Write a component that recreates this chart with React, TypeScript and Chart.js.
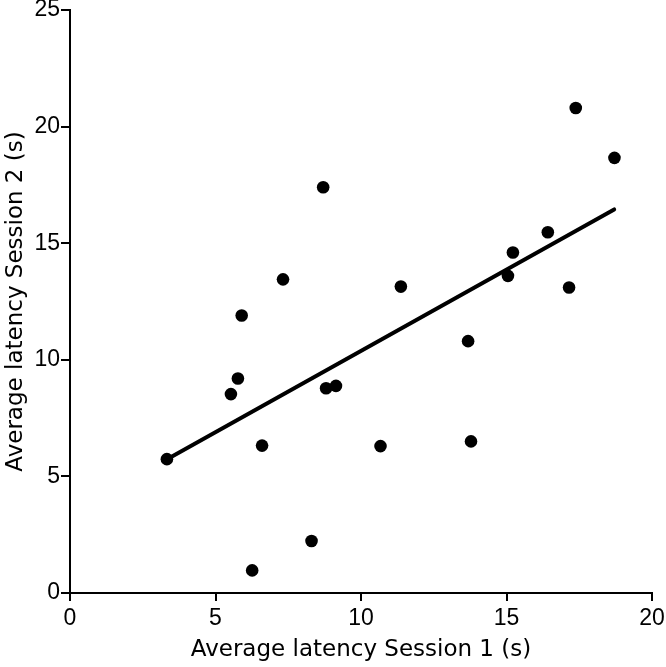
import React, { useEffect, useRef } from "react";
import { Chart, registerables } from "chart.js";

Chart.register(...registerables);

const session1 = [3.33, 5.53, 5.77, 5.9, 6.26, 6.6, 7.32, 8.3, 8.7, 8.8, 9.14, 10.67, 11.37, 13.68, 13.78, 15.05, 15.22, 16.42, 17.15, 17.38, 18.71];
const session2 = [5.74, 8.53, 9.2, 11.9, 0.97, 6.32, 13.45, 2.23, 17.4, 8.78, 8.88, 6.3, 13.14, 10.8, 6.5, 13.6, 14.6, 15.47, 13.1, 20.8, 18.66];
const fitX = [3.32, 18.7];
const fitY = [5.72, 16.45];
const xTitle = "Average latency Session 1 (s)";
const yTitle = "Average latency Session 2 (s)";

export default function App() {
  const ref = useRef<HTMLCanvasElement | null>(null);
  useEffect(() => {
    document.body.style.margin = "0";
    const canvas = ref.current;
    if (!canvas) return;
    const points = session1.map((x, i) => ({ x, y: session2[i] }));
    const fit = fitX.map((x, i) => ({ x, y: fitY[i] }));
    const chart = new Chart(canvas, {
      type: "scatter",
      data: {
        datasets: [
          {
            type: "line",
            data: fit,
            borderColor: "#000",
            borderWidth: 4,
            borderCapStyle: "round",
            pointRadius: 0,
            showLine: true,
            fill: false,
          } as any,
          {
            data: points,
            backgroundColor: "#000",
            borderColor: "#000",
            borderWidth: 0,
            pointRadius: 6.3,
            pointHoverRadius: 6.3,
          },
        ],
      },
      options: {
        responsive: false,
        animation: false,
        devicePixelRatio: 1,
        layout: { padding: { top: 10, right: 14, left: 0, bottom: 0 } },
        plugins: { legend: { display: false }, tooltip: { enabled: false } },
        scales: {
          x: {
            type: "linear",
            min: 0,
            max: 20,
            ticks: {
              stepSize: 5,
              color: "#000",
              padding: 4,
              font: { family: "Liberation Sans", size: 23 },
            },
            grid: { display: true, drawOnChartArea: false, drawTicks: true, tickLength: 8, color: "#000", lineWidth: 2 },
            border: { display: true, color: "#000", width: 2 },
            title: {
              display: true,
              text: xTitle,
              color: "#000",
              font: { family: "DejaVu Sans", size: 23 },
              padding: { top: 0, bottom: 3 },
            },
            afterFit: (s: any) => {
              s.height = 74;
              s.paddingLeft = 0;
              s.paddingRight = 0;
            },
          },
          y: {
            type: "linear",
            min: 0,
            max: 25,
            ticks: {
              stepSize: 5,
              color: "#000",
              padding: 1,
              font: { family: "Liberation Sans", size: 23 },
            },
            grid: { display: true, drawOnChartArea: false, drawTicks: true, tickLength: 9, color: "#000", lineWidth: 2 },
            border: { display: true, color: "#000", width: 2 },
            title: {
              display: true,
              text: yTitle,
              color: "#000",
              font: { family: "DejaVu Sans", size: 23 },
              padding: { top: 2, bottom: 0 },
            },
            afterFit: (s: any) => {
              s.width = 70;
              s.paddingTop = 0;
              s.paddingBottom = 0;
            },
          },
        },
      },
    });
    return () => chart.destroy();
  }, []);
  return (
    <div style={{ width: 666, height: 667 }}>
      <canvas ref={ref} width={666} height={667} style={{ display: "block" }} />
    </div>
  );
}
